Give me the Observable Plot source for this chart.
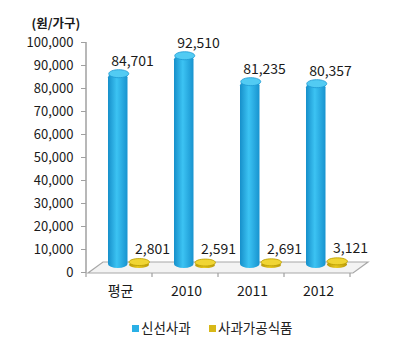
<!DOCTYPE html>
<html>
<head>
<meta charset="utf-8">
<script src="https://cdn.jsdelivr.net/npm/d3@7"></script>
<script src="https://cdn.jsdelivr.net/npm/@observablehq/plot@0.6"></script>
<style>
  html, body { margin: 0; padding: 0; background: #fff; }
  #chart { width: 400px; height: 361px; position: relative; font-family: "Noto Sans CJK KR", "Noto Sans", sans-serif; }
  #legend { position: absolute; left: 0; top: 316px; width: 400px; height: 22px; font-size: 13.5px; color: #222; }
  #legend .item { position: absolute; top: 0; display: flex; align-items: center; height: 22px; }
  #legend .sw { width: 7px; height: 7px; margin-right: 2px; margin-top: 3px; }
</style>
</head>
<body>
<div id="chart"></div>
<script>
const categories = ["평균", "2010", "2011", "2012"];
const freshValues = [84701, 92510, 81235, 80357];
const processedValues = [2801, 2591, 2691, 3121];
const seriesNames = ["신선사과", "사과가공식품"];
const unitLabel = "(원/가구)";
const yTicks = [0, 10000, 20000, 30000, 40000, 50000, 60000, 70000, 80000, 90000, 100000];

const freshData = categories.map((c, i) => ({cat: c, value: freshValues[i], series: seriesNames[0]}));
const procData = categories.map((c, i) => ({cat: c, value: processedValues[i], series: seriesNames[1]}));

const fmt = d3.format(",");

function ellipseSymbol(rx, ry) {
  const k = 0.5523;
  return {
    draw(ctx) {
      ctx.moveTo(-rx, 0);
      ctx.bezierCurveTo(-rx, -ry * k, -rx * k, -ry, 0, -ry);
      ctx.bezierCurveTo(rx * k, -ry, rx, -ry * k, rx, 0);
      ctx.bezierCurveTo(rx, ry * k, rx * k, ry, 0, ry);
      ctx.bezierCurveTo(-rx * k, ry, -rx, ry * k, -rx, 0);
      ctx.closePath();
    }
  };
}

function floorMark(index, scales, values, dimensions) {
  const g = d3.create("svg:g");
  const y0 = scales.y(0);
  const xl = dimensions.marginLeft;
  const xr = dimensions.width - dimensions.marginRight;
  const yTop = scales.y(100000);
  g.append("polygon")
    .attr("points", [[xl + 2, y0 + 1], [xr + 1, y0 + 1], [xr + 16, y0 - 10], [xl + 17, y0 - 10]].map(p => p.join(",")).join(" "))
    .attr("fill", "#f3f3f3")
    .attr("stroke", "#a8a8a8")
    .attr("stroke-width", 1.2);
  g.append("line")
    .attr("x1", xl).attr("x2", xl).attr("y1", yTop).attr("y2", y0 + 1)
    .attr("stroke", "#a0a0a0").attr("stroke-width", 1.5);
  const step = scales.x(categories[1]) - scales.x(categories[0]);
  for (let i = 0; i <= categories.length; i++) {
    const x = xl + i * step;
    g.append("line")
      .attr("x1", x).attr("x2", x).attr("y1", y0 + 1).attr("y2", y0 + 5)
      .attr("stroke", "#a0a0a0").attr("stroke-width", 1.2);
  }
  return g.node();
}

const svg = Plot.plot({
  width: 400,
  height: 310,
  marginLeft: 86,
  marginRight: 48,
  marginTop: 42,
  marginBottom: 38,
  style: {fontFamily: "'Noto Sans CJK KR', 'Noto Sans', sans-serif", background: "#fff", overflow: "visible"},
  x: {domain: categories, padding: 0, label: null},
  y: {domain: [0, 100000], label: null},
  marks: [
    floorMark,
    Plot.axisY({ticks: yTicks, tickFormat: fmt, tickSize: 5, tickPadding: 8, fontSize: 13, stroke: "#a0a0a0", fill: "#1a1a1a", label: null}),
    Plot.axisX({tickSize: 0, tickPadding: 14, fontSize: 14, fill: "#1a1a1a", label: null}),
    Plot.barY(freshData, {x: "cat", y: "value", insetLeft: 21, insetRight: 25.5, rx: 10, ry: 4, dy: -4, fill: "url(#gBlue)"}),
    Plot.dot(freshData, {x: "cat", y: "value", dx: -1.75, dy: -4, symbol: ellipseSymbol(10, 4), fill: "#52cbf3", stroke: "#1b97d2", strokeWidth: 0.8}),
    Plot.barY(procData, {x: "cat", y: "value", insetLeft: 42, insetRight: 4, rx: 10, ry: 3.5, dy: -4, fill: "url(#gYellow)"}),
    Plot.dot(procData, {x: "cat", y: "value", dx: 18.75, dy: -4, symbol: ellipseSymbol(10.2, 3.5), fill: "#f0d534", stroke: "#b89c00", strokeWidth: 0.8}),
    Plot.text(freshData, {x: "cat", y: "value", text: d => fmt(d.value), dx: 12, dy: -16, fontSize: 14, fill: "#1a1a1a"}),
    Plot.text(procData, {x: "cat", y: "value", text: d => fmt(d.value), dx: 32, dy: -17, fontSize: 14, fill: "#1a1a1a"}),
    Plot.text([unitLabel], {frameAnchor: "top-left", text: d => d, dx: -55, dy: -23, textAnchor: "start", fontSize: 12.5, fontWeight: "bold", fill: "#1a1a1a"})
  ]
});

const defs = d3.select(svg).insert("defs", ":first-child");
const gb = defs.append("linearGradient").attr("id", "gBlue").attr("x1", "0").attr("x2", "1").attr("y1", "0").attr("y2", "0");
gb.append("stop").attr("offset", "0%").attr("stop-color", "#168fca");
gb.append("stop").attr("offset", "45%").attr("stop-color", "#3cc3f3");
gb.append("stop").attr("offset", "100%").attr("stop-color", "#1893cf");
const gy = defs.append("linearGradient").attr("id", "gYellow").attr("x1", "0").attr("x2", "1").attr("y1", "0").attr("y2", "0");
gy.append("stop").attr("offset", "0%").attr("stop-color", "#b8980a");
gy.append("stop").attr("offset", "45%").attr("stop-color", "#e8c81e");
gy.append("stop").attr("offset", "100%").attr("stop-color", "#b8980a");

const chart = document.getElementById("chart");
chart.appendChild(svg);

const legend = document.createElement("div");
legend.id = "legend";
const legendColors = ["#2ab0e6", "#d8b818"];
const legendX = [132, 209];
seriesNames.forEach((name, i) => {
  const item = document.createElement("div");
  item.className = "item";
  item.style.left = legendX[i] + "px";
  const sw = document.createElement("span");
  sw.className = "sw";
  sw.style.background = legendColors[i];
  const tx = document.createElement("span");
  tx.textContent = name;
  item.appendChild(sw);
  item.appendChild(tx);
  legend.appendChild(item);
});
chart.appendChild(legend);
</script>
</body>
</html>
